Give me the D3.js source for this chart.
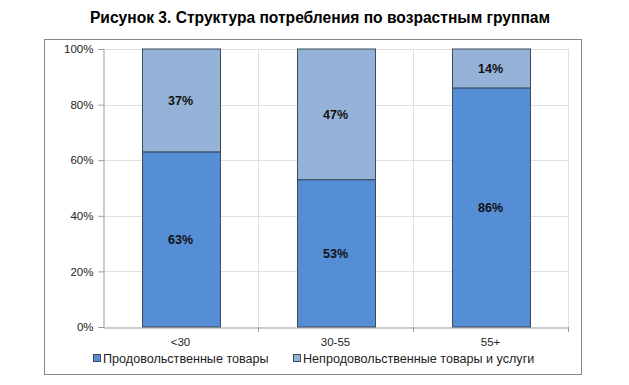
<!DOCTYPE html>
<html>
<head>
<meta charset="utf-8">
<script src="https://cdn.jsdelivr.net/npm/d3@7"></script>
<style>
  body { margin: 0; background: #fff; }
  svg { font-family: "Liberation Sans", Arial, sans-serif; }
</style>
</head>
<body>
<svg id="chart" width="629" height="385"></svg>
<script>
// Chart data
var categories = ["<30", "30-55", "55+"];
var foodShare = [63, 53, 86];
var nonFoodShare = [37, 47, 14];
var seriesNames = ["Продовольственные товары", "Непродовольственные товары и услуги"];
var yTicks = [0, 20, 40, 60, 80, 100];

var svg = d3.select("#chart"),
    margin = { top: 49, left: 103, right: 61, bottom: 58 },
    width = +svg.attr("width") - margin.left - margin.right,
    height = +svg.attr("height") - margin.top - margin.bottom;

var colors = ["#568ed6", "#95b3d8"];

// title
svg.append("text")
    .attr("x", 320)
    .attr("y", 23)
    .attr("text-anchor", "middle")
    .style("font-weight", "bold")
    .style("font-size", "15.6px")
    .text("Рисунок 3. Структура потребления по возрастным группам");

// outer frame
svg.append("rect")
    .attr("x", 44.5).attr("y", 39.5)
    .attr("width", 537).attr("height", 335)
    .attr("fill", "none")
    .attr("stroke", "#888");

var g = svg.append("g").attr("transform", "translate(" + margin.left + "," + margin.top + ")");

var x = d3.scaleBand().domain(categories).range([0, width]).paddingInner(0.5).paddingOuter(0.25);
var xb = d3.scaleBand().domain(categories).range([0, width]);
var y = d3.scaleLinear().domain([0, 100]).range([height, 0]);

// horizontal grid
g.selectAll(".hgrid").data(yTicks.slice(1))
    .enter().append("line")
    .attr("x1", 0).attr("x2", width)
    .attr("y1", function (d) { return Math.round(y(d)) + 0.5; })
    .attr("y2", function (d) { return Math.round(y(d)) + 0.5; })
    .attr("stroke", "#e0e0e0");

// vertical grid at category boundaries
g.selectAll(".vgrid").data(categories)
    .enter().append("line")
    .attr("x1", function (d) { return Math.round(xb(d) + xb.bandwidth()) + 0.5; })
    .attr("x2", function (d) { return Math.round(xb(d) + xb.bandwidth()) + 0.5; })
    .attr("y1", 0).attr("y2", height)
    .attr("stroke", "#e0e0e0");

// y axis
var yAxis = g.append("g")
    .attr("transform", "translate(0.5,0)")
    .call(d3.axisLeft(y).tickValues(yTicks).tickFormat(function (d) { return d + "%"; }).tickSize(5).tickPadding(5));
yAxis.select(".domain").attr("stroke", "#999");
yAxis.selectAll(".tick line").attr("stroke", "#999");
yAxis.selectAll("text").style("font-size", "11.5px").attr("fill", "#222");

// x axis
var xAxis = g.append("g")
    .attr("transform", "translate(0," + (height + 0.5) + ")")
    .call(d3.axisBottom(x).tickSize(0).tickPadding(10));
xAxis.select(".domain").attr("stroke", "#999");
xAxis.selectAll("text").style("font-size", "11.5px").attr("fill", "#222");
g.selectAll(".xtick").data(categories)
    .enter().append("line")
    .attr("x1", function (d) { return Math.round(xb(d) + xb.bandwidth()) + 0.5; })
    .attr("x2", function (d) { return Math.round(xb(d) + xb.bandwidth()) + 0.5; })
    .attr("y1", height).attr("y2", height + 5)
    .attr("stroke", "#999");

// stacked bars
var stacked = categories.map(function (c, i) {
    return [
        { cat: c, y0: 0, y1: foodShare[i], v: foodShare[i], s: 0 },
        { cat: c, y0: foodShare[i], y1: foodShare[i] + nonFoodShare[i], v: nonFoodShare[i], s: 1 }
    ];
});
var segs = [].concat.apply([], stacked);

g.selectAll(".seg").data(segs)
    .enter().append("rect")
    .attr("x", function (d) { return Math.round(x(d.cat)) + 0.5; })
    .attr("width", Math.round(x.bandwidth()))
    .attr("y", function (d) { return y(d.y1); })
    .attr("height", function (d) { return y(d.y0) - y(d.y1); })
    .attr("fill", function (d) { return colors[d.s]; })
    .attr("stroke", "#3c4a5c")
    .attr("stroke-width", 1);

g.selectAll(".lbl").data(segs)
    .enter().append("text")
    .attr("x", function (d) { return x(d.cat) + x.bandwidth() / 2; })
    .attr("y", function (d) { return y((d.y0 + d.y1) / 2); })
    .attr("dy", "0.35em")
    .attr("text-anchor", "middle")
    .style("font-weight", "bold")
    .style("font-size", "12.5px")
    .attr("fill", "#111")
    .text(function (d) { return d.v + "%"; });

// legend
var legendX = [93, 293];
var legend = svg.selectAll(".legend").data(seriesNames)
    .enter().append("g")
    .attr("transform", function (d, i) { return "translate(" + legendX[i] + ",359)"; });
legend.append("rect")
    .attr("x", 0.5).attr("y", -4.5)
    .attr("width", 7).attr("height", 7)
    .attr("fill", function (d, i) { return colors[i]; })
    .attr("stroke", "#3c4a5c");
legend.append("text")
    .attr("x", 10).attr("y", 0)
    .attr("dy", "0.35em")
    .style("font-size", "12.6px")
    .attr("fill", "#222")
    .text(function (d) { return d; });
</script>
</body>
</html>
